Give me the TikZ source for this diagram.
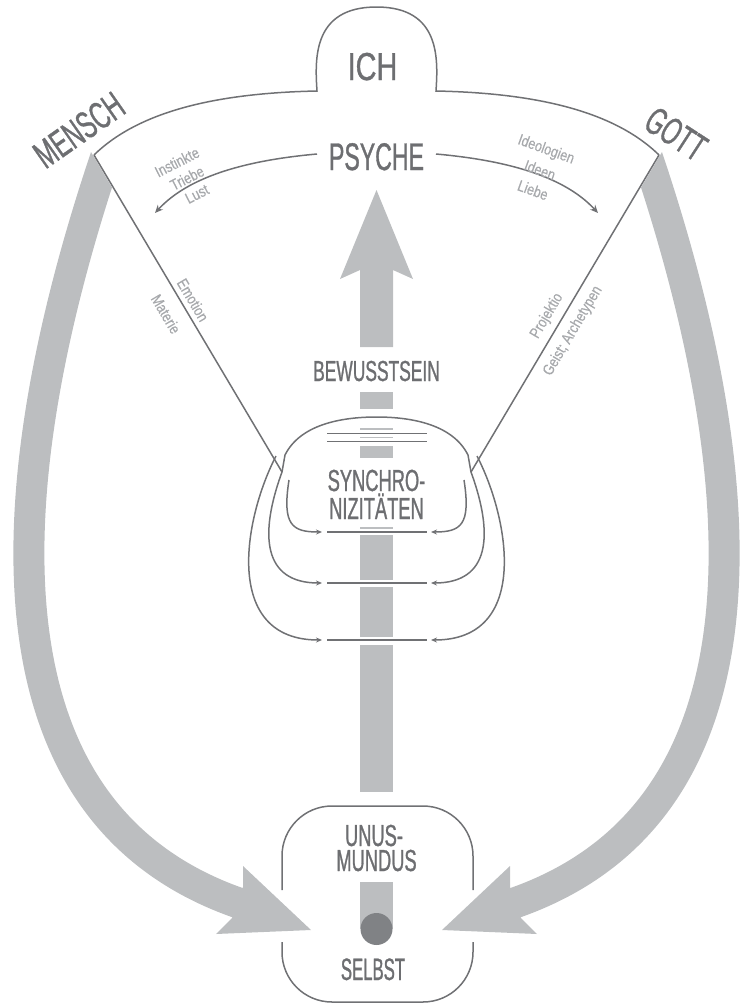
\documentclass[tikz,border=0pt]{standalone}
\usepackage{fontspec}
\usetikzlibrary{arrows.meta}
\newfontfamily\condf[FakeStretch=0.6,FakeBold=0.9]{Liberation Sans}
\newfontfamily\widef[FakeStretch=0.74,FakeBold=0.9]{Liberation Sans}
\newfontfamily\narrf[FakeStretch=0.54,FakeBold=0.9]{Liberation Sans}
\newfontfamily\smallf[FakeStretch=0.82,FakeBold=0.4]{Liberation Sans}
\definecolor{txt}{HTML}{6D6E71}
\definecolor{ln}{HTML}{707174}
\definecolor{band}{HTML}{BCBEC0}
\definecolor{ltxt}{HTML}{A7A9AC}
\definecolor{dotc}{HTML}{808285}
\begin{document}
\begin{tikzpicture}[x=1pt,y=-1pt,
  outl/.style={draw=ln, line width=1.5pt},
  bigtxt/.style={text=txt, inner sep=0pt, font=\condf\fontsize{38.5}{40}\selectfont},
  midtxt/.style={text=txt, inner sep=0pt, font=\condf\fontsize{30.5}{32}\selectfont},
  smtxt/.style={text=ltxt, inner sep=0pt, font=\smallf\fontsize{15.5}{17}\selectfont},
  bandline/.style={draw=band, line width=1.5pt},
  syncarrow/.style={draw=ln, line width=1.5pt, -{Stealth[length=6pt,width=5pt]}},
  psyarrow/.style={draw=ln, line width=1.5pt, -{Stealth[length=8pt,width=7pt]}},
]
\useasboundingbox (0,0) rectangle (742,1005);

% key coordinates
\coordinate (mc) at (94,155);
\coordinate (gc) at (659,155);
\coordinate (ml) at (282,472);
\coordinate (gl) at (471,472);

% left big band
\begin{scope}
  \clip (-80,152) -- (91,152) -- (595,1005) -- (-80,1005) -- cycle;
  \draw[band, line width=31pt] (115,130) .. controls (20,400) and (-60,800) .. (240,903.5);
\end{scope}
\fill[band] (243,887) -- (243,866) -- (311,930) -- (216,934) -- (232,918) -- cycle;

% right big band
\begin{scope}
  \clip (830,152) -- (662,152) -- (158,1005) -- (830,1005) -- cycle;
  \draw[band, line width=31pt] (638,130) .. controls (733,400) and (813,800) .. (513,903.5);
\end{scope}
\fill[band] (510,887) -- (510,866) -- (442,930) -- (537,934) -- (521,918) -- cycle;

% central arrow and shaft segments
\fill[band] (376.5,190) -- (413,279) -- (393,270) -- (393,347) -- (360,347) -- (360,270) -- (340,279) -- cycle;
\fill[band] (360,392) rectangle (393,409);
\draw[bandline] (360,429) -- (393,429);
\draw[bandline] (360,437.3) -- (393,437.3);
\fill[band] (360,446) rectangle (393,458);
\draw[bandline] (360,528) -- (393,528);
\fill[band] (360,535) rectangle (393,580);
\fill[band] (360,587) rectangle (393,637);
\fill[band] (360,645) rectangle (393,792);
\fill[band] (360,882) rectangle (393,929);
\fill[dotc] (376.5,929) circle (16);

% top outline with ICH bump
\draw[outl] (mc) .. controls (140,110) and (220,93) .. (317,91)
  .. controls (315,60) and (312,7) .. (376.5,7)
  .. controls (441,7) and (438,60) .. (436,91)
  .. controls (533,93) and (613,110) .. (gc);
\draw[outl] (mc) -- (ml);
\draw[outl] (gc) -- (gl);

% psyche arrows
\draw[psyarrow] (317,154) .. controls (250,160) and (190,175) .. (155,213);
\draw[psyarrow] (436,154) .. controls (503,160) and (563,175) .. (598,213);

% synchro box
\draw[outl] (ml) -- (285,455) .. controls (300,425) and (340,417) .. (376.5,417)
  .. controls (413,417) and (453,425) .. (468,455) -- (gl);
\draw[outl] (327,433.3) -- (427,433.3);
\draw[outl] (327,441.7) -- (427,441.7);
\draw[outl] (327,532) -- (427,532);
\draw[outl] (327,583) -- (427,583);
\draw[outl] (327,640) -- (427,640);
\draw[syncarrow] (289,480) .. controls (282,525) and (292,532) .. (322,532);
\draw[syncarrow] (464,480) .. controls (471,525) and (461,532) .. (431,532);
\draw[syncarrow] (ml) .. controls (259,535) and (263,583) .. (322,583);
\draw[syncarrow] (gl) .. controls (494,535) and (490,583) .. (431,583);
\draw[syncarrow] (276,456) .. controls (243,520) and (223,640) .. (322,640);
\draw[syncarrow] (477,456) .. controls (510,520) and (530,640) .. (431,640);

% unus mundus box
\draw[outl, rounded corners=50pt] (282,890) -- (282,806) -- (473,806) -- (473,890);
\draw[outl, rounded corners=50pt] (282,942) -- (282,1002) -- (473,1002) -- (473,942);

% texts
\node[bigtxt, anchor=base, font=\widef\fontsize{39}{40}\selectfont] (ich) at (372.5,80) {ICH};
\node[bigtxt, anchor=base] (psyche) at (376.5,170) {PSYCHE};
\node[bigtxt, rotate=35] (mensch) at (79,130) {MENSCH};
\node[bigtxt, rotate=-33] (gott) at (676,134) {GOTT};
\node[midtxt, anchor=base, font=\condf\fontsize{29}{30}\selectfont] (bew) at (376.5,381) {BEWUSSTSEIN};
\node[midtxt, anchor=base] (syn1) at (376.5,491) {SYNCHRO-};
\node[midtxt, anchor=base] (syn2) at (376.5,519) {NIZITÄTEN};
\node[midtxt, anchor=base] (unus1) at (374,846) {UNUS-};
\node[midtxt, anchor=base] (unus2) at (376.5,871) {MUNDUS};
\node[midtxt, anchor=base, font=\narrf\fontsize{31}{32}\selectfont] (selbst) at (373,980) {SELBST};

\node[smtxt, rotate=27] (inst) at (177,162) {Instinkte};
\node[smtxt, rotate=27] (trieb) at (187,178) {Triebe};
\node[smtxt, rotate=27] (lust) at (197,194) {Lust};
\node[smtxt, rotate=-20] (ideol) at (546,150) {Ideologien};
\node[smtxt, rotate=-20] (ideen) at (540,170) {Ideen};
\node[smtxt, rotate=-20] (liebe) at (533,190) {Liebe};
\node[smtxt, rotate=-59.4] (emo) at (193,300) {Emotion};
\node[smtxt, rotate=-59.4] (mat) at (166,314) {Materie};
\node[smtxt, rotate=59.4] (proj) at (547,316) {Projektio};
\node[smtxt, rotate=59.4] (geist) at (573,331) {Geist; Archetypen};
\end{tikzpicture}
\end{document}
